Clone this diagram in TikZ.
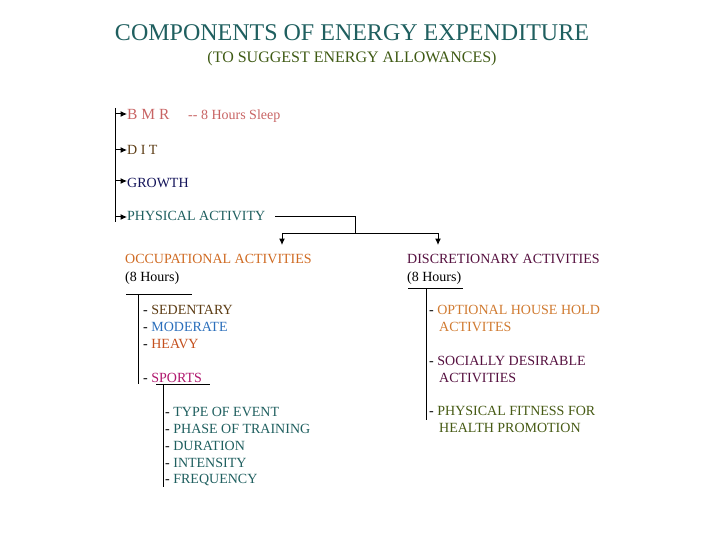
\documentclass[tikz,border=0pt]{standalone}
\usepackage{fontspec}
\setmainfont{Liberation Serif}
\usetikzlibrary{arrows.meta}
\definecolor{cteal}{HTML}{1F5F5F}
\definecolor{colive}{HTML}{3F5A14}
\definecolor{crose}{HTML}{C86464}
\definecolor{cbrown}{HTML}{5C3C14}
\definecolor{cnavy}{HTML}{14145A}
\definecolor{corange}{HTML}{CF6A22}
\definecolor{cpurple}{HTML}{55103F}
\definecolor{cblue}{HTML}{2A6EBB}
\definecolor{cred}{HTML}{C4501E}
\definecolor{cmag}{HTML}{B0186E}
\definecolor{corange2}{HTML}{D07A30}
\definecolor{cgreen}{HTML}{465A14}
\begin{document}
\begin{tikzpicture}[x=1pt,y=-1pt,
  txt/.style={anchor=base west,inner sep=0pt,font=\fontsize{14}{16}\selectfont},
  ln/.style={line width=1pt,black},
  arr/.style={line width=1pt,-{Latex[length=6.5pt,width=6pt]}}]
\useasboundingbox (0,0) rectangle (720,540);
% titles
\node[anchor=base,inner sep=0pt,text=cteal,font=\fontsize{24}{26}\selectfont] (title) at (352,41) {COMPONENTS OF ENERGY EXPENDITURE};
\node[anchor=base,inner sep=0pt,text=colive,font=\fontsize{16}{18}\selectfont] (sub) at (352,63) {(TO SUGGEST ENERGY ALLOWANCES)};
% left list
\node[txt,text=crose,font=\fontsize{15.5}{18}\selectfont] (bmr) at (127,120) {B M R};
\node[txt,text=crose] (sleep) at (188,120) {-{}- 8 Hours Sleep};
\node[txt,text=cbrown,font=\fontsize{14}{16}\selectfont] (dit) at (127,155) {D I T};
\node[txt,text=cnavy] (growth) at (127,188) {GROWTH};
\node[txt,text=cteal] (pa) at (127,221) {PHYSICAL ACTIVITY};
\coordinate (lt) at (115,108);
\coordinate (lb) at (115,222);
\coordinate (l1) at (115,114);
\coordinate (l2) at (115,150);
\coordinate (l3) at (115,181);
\coordinate (l4) at (115,217);
\draw[ln] (lt) -- (lb);
\draw[arr] (l1) -- (l1 -| bmr.west);
\draw[arr] (l2) -- (l2 -| dit.west);
\draw[arr] (l3) -- (l3 -| growth.west);
\draw[arr] (l4) -- (l4 -| pa.west);
% branch
\coordinate (pa1) at (275,217);
\coordinate (pa2) at (355,217);
\coordinate (j) at (355,233);
\coordinate (oc) at (282,233);
\coordinate (dc) at (438,233);
\coordinate (octip) at (282,245);
\coordinate (dctip) at (438,245);
\draw[ln] (pa1) -- (pa2) -- (j);
\draw[ln] (oc) -- (dc);
\draw[arr] (oc) -- (octip);
\draw[arr] (dc) -- (dctip);
% occupational
\node[txt,text=corange] (occ) at (125,263) {OCCUPATIONAL ACTIVITIES};
\node[txt] (occh) at (125,281) {(8 Hours)};
\coordinate (ou1) at (126,294);
\coordinate (ou2) at (192,294);
\coordinate (ov1) at (138,294);
\coordinate (ov2) at (138,384);
\draw[ln] (ou1) -- (ou2);
\draw[ln] (ov1) -- (ov2);
\node[txt] (sed) at (143,314) {- \textcolor{cbrown}{SEDENTARY}};
\node[txt] (mod) at (143,331) {- \textcolor{cblue}{MODERATE}};
\node[txt] (hea) at (143,348) {- \textcolor{cred}{HEAVY}};
\node[txt] (spo) at (143,382) {- \textcolor{cmag}{SPORTS}};
\coordinate (su1) at (156,384);
\coordinate (su2) at (210,384);
\coordinate (sv1) at (163,384);
\coordinate (sv2) at (163,487);
\draw[ln] (su1) -- (su2);
\draw[ln] (sv1) -- (sv2);
\node[txt] (t1) at (165,416) {- \textcolor{cteal}{TYPE OF EVENT}};
\node[txt] (t2) at (165,433) {- \textcolor{cteal}{PHASE OF TRAINING}};
\node[txt] (t3) at (165,450) {- \textcolor{cteal}{DURATION}};
\node[txt] (t4) at (165,467) {- \textcolor{cteal}{INTENSITY}};
\node[txt] (t5) at (165,483) {- \textcolor{cteal}{FREQUENCY}};
% discretionary
\node[txt,text=cpurple] (dis) at (407,263) {DISCRETIONARY ACTIVITIES};
\node[txt] (dish) at (407,281) {(8 Hours)};
\coordinate (du1) at (408,288);
\coordinate (du2) at (463,288);
\coordinate (dv1) at (426,288);
\coordinate (dv2) at (426,420);
\draw[ln] (du1) -- (du2);
\draw[ln] (dv1) -- (dv2);
\node[txt] (opt) at (429,314) {- \textcolor{corange2}{OPTIONAL HOUSE HOLD}};
\node[txt,text=corange2] (opt2) at (439,331) {ACTIVITES};
\node[txt] (soc) at (429,365) {- \textcolor{cpurple}{SOCIALLY DESIRABLE}};
\node[txt,text=cpurple] (soc2) at (439,382) {ACTIVITIES};
\node[txt] (phy) at (429,415) {- \textcolor{cgreen}{PHYSICAL FITNESS FOR}};
\node[txt,text=cgreen] (phy2) at (439,432) {HEALTH PROMOTION};
\end{tikzpicture}
\end{document}
